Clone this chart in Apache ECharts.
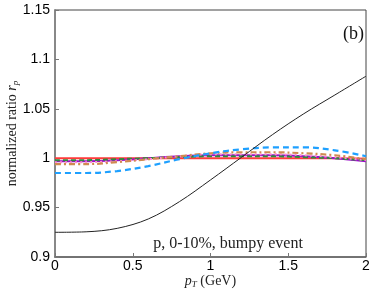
<!DOCTYPE html>
<html><head><meta charset="utf-8">
<script src="https://cdn.jsdelivr.net/npm/echarts@6/dist/echarts.min.js"></script>
<style>html,body{margin:0;padding:0;background:#fff}#c{width:374px;height:291px}</style>
</head><body><div id="c"></div>
<script>
const pT = [0, 0.2, 0.4, 0.6, 0.8, 1.0, 1.2, 1.4, 1.6, 1.8, 2.0];
const blackLine = [0.925, 0.9255, 0.929, 0.9385, 0.956, 0.978, 1.001, 1.024, 1.045, 1.064, 1.083];
const blueDash = [0.985, 0.985, 0.987, 0.992, 0.999, 1.005, 1.009, 1.011, 1.011, 1.008, 1.002];
const orangeDashDot = [0.994, 0.994, 0.996, 0.999, 1.002, 1.005, 1.006, 1.006, 1.005, 1.003, 0.999];
const pinkDot = [0.996, 0.996, 0.997, 0.999, 1.002, 1.004, 1.004, 1.004, 1.003, 1.001, 0.998];
const greenDash = [0.998, 0.998, 0.999, 1.000, 1.001, 1.002, 1.002, 1.002, 1.001, 1.000, 0.998];
const purpleLine = [0.997, 0.997, 0.998, 1.000, 1.002, 1.003, 1.003, 1.003, 1.002, 1.000, 0.997];
const redLine = [1.0, 1.0, 1.0, 1.0, 1.0, 1.0, 1.0, 1.0, 1.0, 1.0, 0.9995];
const xTicks = [0, 0.5, 1, 1.5, 2];
const yTicks = [0.9, 0.95, 1, 1.05, 1.1, 1.15];

const pairs = ys => pT.map((x, i) => [x, ys[i]]);
const mk = (data, color, width, type) => ({
  type: 'line', data: pairs(data), smooth: 0.35, symbol: 'none',
  lineStyle: { color, width, type }, z: 3
});
const serif = '"Liberation Serif"';
const chart = echarts.init(document.getElementById('c'));
chart.setOption({
  animation: false,
  grid: { left: 55, right: 8, top: 10, bottom: 34, show: true, borderColor: '#444', borderWidth: 1,
    containLabel: false, outerBoundsMode: 'none' },
  xAxis: {
    type: 'value', min: 0, max: 2, interval: 0.5,
    axisLine: { show: true, lineStyle: { color: '#666', width: 1.5 } },
    axisTick: { show: true, inside: true, length: 4, lineStyle: { color: '#777' } },
    splitLine: { show: false },
    axisLabel: { color: '#000', fontFamily: 'Liberation Sans', fontSize: 14, margin: 2,
      formatter: v => xTicks.includes(+v.toFixed(2)) ? String(+v.toFixed(2)) : '' },
    name: '{i|p}{s|T}{n| (GeV)}', nameLocation: 'middle', nameGap: 16, nameMoveOverlap: false,
    nameTextStyle: { rich: {
      i: { fontFamily: serif, fontStyle: 'italic', fontSize: 14, color: '#222' },
      s: { fontFamily: serif, fontStyle: 'italic', fontSize: 9, color: '#222', verticalAlign: 'bottom', padding: [7, 0, 0, 0] },
      n: { fontFamily: serif, fontSize: 14, color: '#222' } } }
  },
  yAxis: {
    type: 'value', min: 0.9, max: 1.15, interval: 0.05,
    axisLine: { show: true, lineStyle: { color: '#888', width: 2 } },
    axisTick: { show: true, inside: true, length: 4, lineStyle: { color: '#777' } },
    splitLine: { show: false },
    axisLabel: { color: '#000', fontFamily: 'Liberation Sans', fontSize: 14, margin: 5,
      formatter: v => String(+v.toFixed(2)) },
    name: '{n|normalized ratio }{i|r}{s|p}', nameLocation: 'middle', nameGap: 35, nameMoveOverlap: false,
    nameTextStyle: { rich: {
      n: { fontFamily: serif, fontSize: 14, color: '#222' },
      i: { fontFamily: serif, fontStyle: 'italic', fontSize: 14, color: '#222' },
      s: { fontFamily: serif, fontStyle: 'italic', fontSize: 9, color: '#222', verticalAlign: 'bottom', padding: [6, 0, 0, 0] } } }
  },
  graphic: [
    { type: 'text', style: { x: 228, y: 244, text: 'p, 0-10%, bumpy event', font: '16px "Liberation Serif"', fill: '#222', textAlign: 'center', textVerticalAlign: 'middle' } },
    { type: 'text', style: { x: 364, y: 34, text: '(b)', font: '18px "Liberation Serif"', fill: '#111', textAlign: 'right', textVerticalAlign: 'middle' } }
  ],
  series: [
    mk(redLine, '#ff3a3a', 2, 'solid'),
    mk(purpleLine, '#9a10c8', 2, 'solid'),
    mk(greenDash, '#2e8b3e', 2, [5, 3]),
    mk(pinkDot, '#ff8ad0', 2, [2, 3]),
    mk(orangeDashDot, '#d08a50', 2.2, [6, 3, 2, 3]),
    mk(blueDash, '#1ea0ff', 2.2, [6, 4]),
    mk(blackLine, '#222', 1, 'solid')
  ]
});
</script></body></html>
